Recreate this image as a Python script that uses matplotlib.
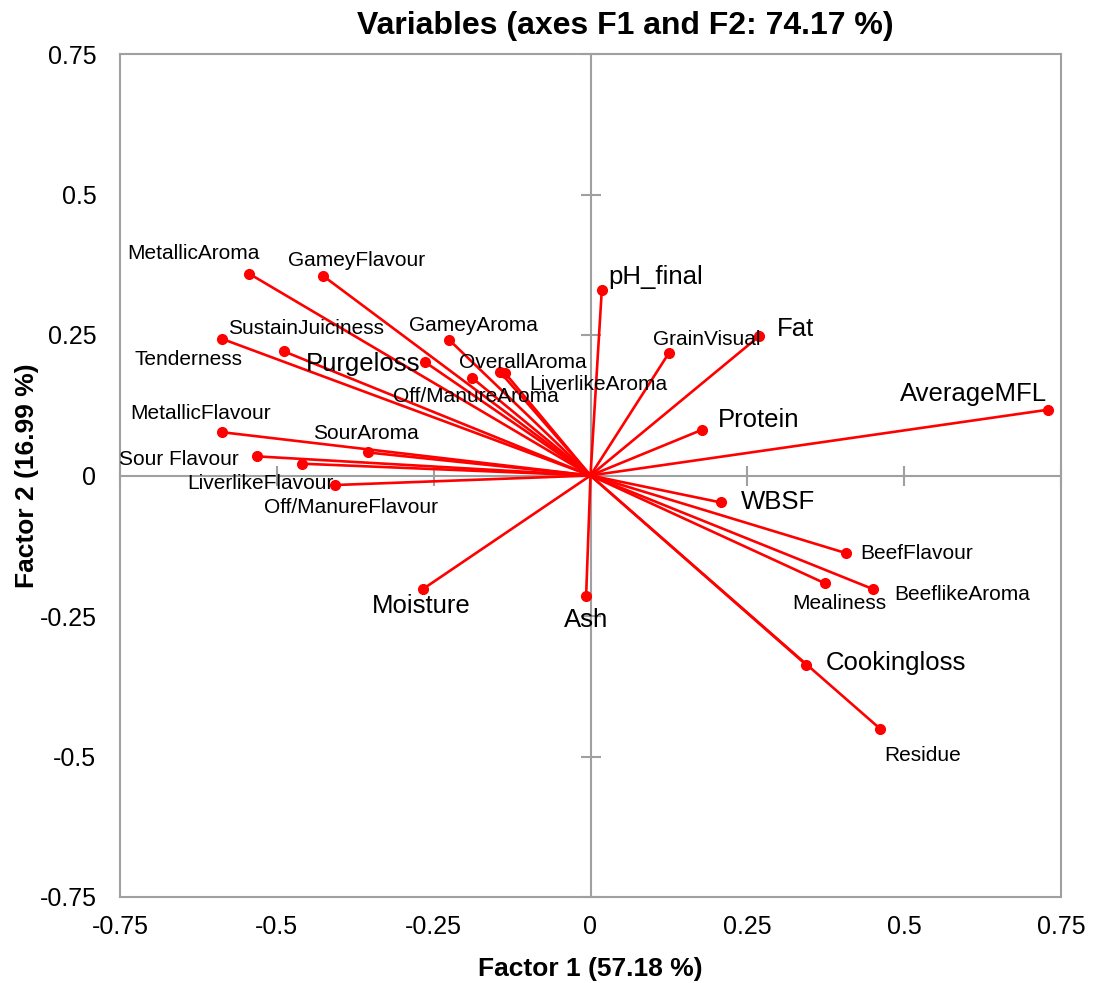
import matplotlib
matplotlib.use("Agg")
import matplotlib.pyplot as plt
import numpy as np

plt.rcParams['font.family'] = ['Liberation Sans', 'DejaVu Sans']

# PCA loadings (F1, F2)
variables = ["MetallicAroma", "GameyFlavour", "SustainJuiciness", "Tenderness",
             "GameyAroma", "Purgeloss", "OverallAroma", "LiverlikeAroma",
             "Off/ManureAroma", "MetallicFlavour", "SourAroma", "Sour Flavour",
             "LiverlikeFlavour", "Off/ManureFlavour", "pH_final", "GrainVisual",
             "Fat", "Protein", "AverageMFL", "WBSF", "BeefFlavour", "Mealiness",
             "BeeflikeAroma", "Ash", "Cookingloss", "Residue", "Moisture"]
f1 = [-0.544, -0.426, -0.587, -0.489, -0.225, -0.264, -0.144, -0.136,
      -0.189, -0.587, -0.355, -0.531, -0.460, -0.408, 0.018, 0.125,
      0.269, 0.177, 0.729, 0.208, 0.407, 0.374, 0.450, -0.007, 0.344,
      0.462, -0.267]
f2 = [0.359, 0.355, 0.243, 0.221, 0.241, 0.202, 0.184, 0.182,
      0.174, 0.077, 0.041, 0.034, 0.021, -0.017, 0.330, 0.218,
      0.248, 0.081, 0.117, -0.048, -0.138, -0.192, -0.202, -0.215, -0.337,
      -0.451, -0.202]

ticks = [-0.75, -0.5, -0.25, 0, 0.25, 0.5, 0.75]
tick_labels = ["-0.75", "-0.5", "-0.25", "0", "0.25", "0.5", "0.75"]

# label placement: (dx px, dy px, ha, big font)
label_pos = {
    "MetallicAroma": (10, 20, 'right', False),
    "GameyFlavour": (-35, 15, 'left', False),
    "SustainJuiciness": (6, 10, 'left', False),
    "Tenderness": (-41, -8, 'right', False),
    "GameyAroma": (-40, 15, 'left', False),
    "Purgeloss": (-5, -2, 'right', True),
    "OverallAroma": (-41, 10, 'left', False),
    "LiverlikeAroma": (24, -11, 'left', False),
    "Off/ManureAroma": (4, -19, 'center', False),
    "MetallicFlavour": (49, 19, 'right', False),
    "SourAroma": (-2, 19, 'center', False),
    "Sour Flavour": (-19, -3, 'right', False),
    "LiverlikeFlavour": (32, -20, 'right', False),
    "Off/ManureFlavour": (-71, -22, 'left', False),
    "pH_final": (7, 13, 'left', True),
    "GrainVisual": (-16, 13, 'left', False),
    "Fat": (18, 7, 'left', True),
    "Protein": (16, 10, 'left', True),
    "AverageMFL": (-1, 16, 'right', True),
    "WBSF": (20, 0, 'left', True),
    "BeefFlavour": (14, 0, 'left', False),
    "Mealiness": (14, -20, 'center', False),
    "BeeflikeAroma": (21, -5, 'left', False),
    "Ash": (0, -24, 'center', True),
    "Cookingloss": (19, 2, 'left', True),
    "Residue": (4, -27, 'left', False),
    "Moisture": (-2, -17, 'center', True),
}

gray = '#a0a0a0'
fig = plt.figure(figsize=(10.93, 9.83), dpi=100)
ax = fig.add_axes([120 / 1093, 86 / 983, 941 / 1093, 843 / 983])

# cross axes through the origin with small tick marks
ax.axhline(0, color=gray, lw=1.5, zorder=1)
ax.axvline(0, color=gray, lw=1.5, zorder=1)
inner = [t for t in ticks if t != 0]
ax.plot(inner, np.zeros(len(inner)), ls='none', marker='|', ms=15,
        mew=1.5, color=gray, zorder=1, clip_on=False)
ax.plot(np.zeros(len(inner)), inner, ls='none', marker='_', ms=15,
        mew=1.5, color=gray, zorder=1, clip_on=False)

for name, x, y in zip(variables, f1, f2):
    ax.plot([0, x], [0, y], color='#ff0000', lw=1.9, zorder=3)
    ax.plot(x, y, 'o', color='#ff0000', ms=7, zorder=4)
    dx, dy, ha, big = label_pos[name]
    ax.annotate(name, (x, y), xytext=(dx, dy), textcoords='offset pixels',
                ha=ha, va='center', fontsize=18.5 if big else 15, zorder=5)

ax.set_xlim(-0.75, 0.75)
ax.set_ylim(-0.75, 0.75)
ax.set_xticks(ticks)
ax.set_xticklabels(tick_labels)
ax.set_yticks(ticks)
ax.set_yticklabels(tick_labels)
ax.tick_params(axis='both', length=0, labelsize=18)
ax.tick_params(axis='x', pad=13)
ax.tick_params(axis='y', pad=17)
for s in ax.spines.values():
    s.set_color(gray)
    s.set_linewidth(1.5)

ax.set_xlabel("Factor 1 (57.18 %)", fontsize=19, fontweight='bold', labelpad=13)
ax.set_ylabel("Factor 2 (16.99 %)", fontsize=19, fontweight='bold', labelpad=0)
fig.text(625 / 1093, 1 - 26 / 983, "Variables (axes F1 and F2: 74.17 %)",
         ha='center', va='center', fontsize=23, fontweight='bold')

fig.savefig("out.png", dpi=100)
